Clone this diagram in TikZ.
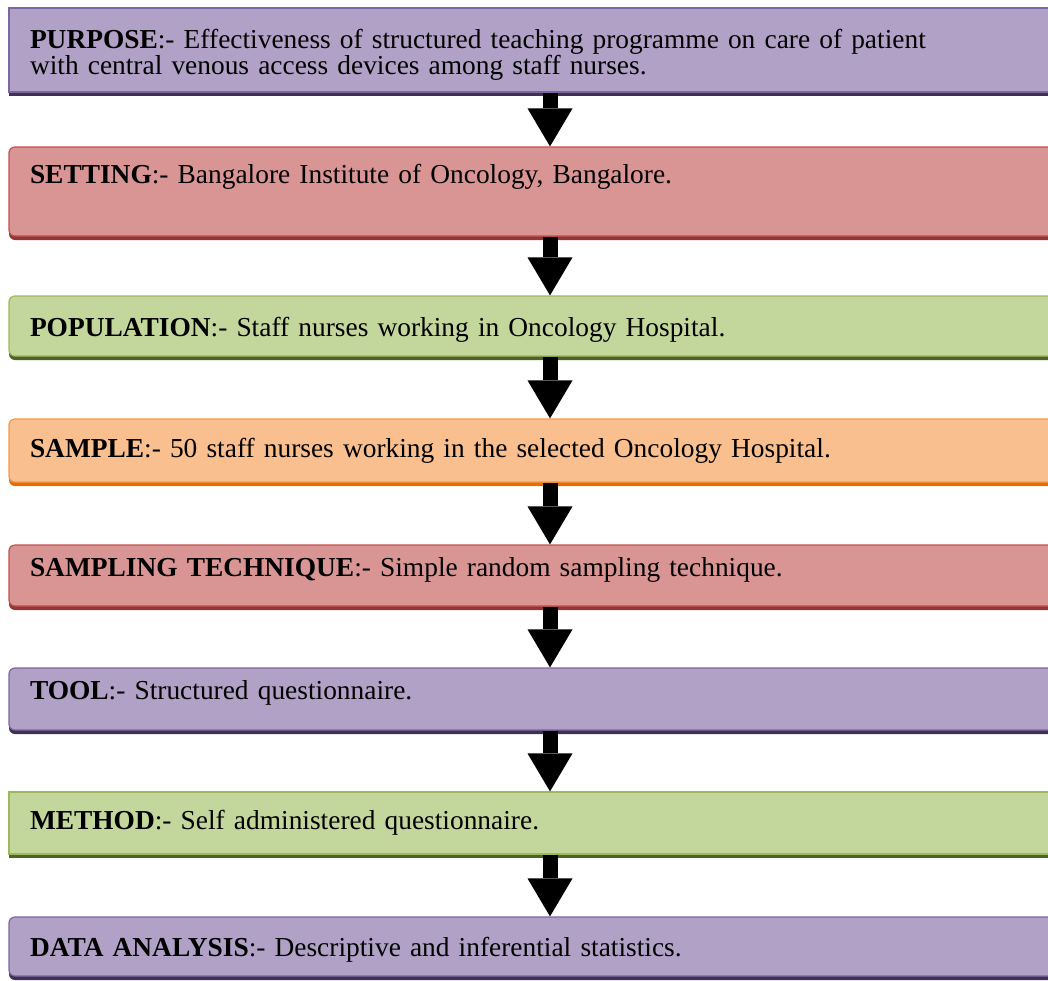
\documentclass[tikz,border=0pt]{standalone}
\usepackage{fontspec}
\setmainfont{Liberation Serif}
\usetikzlibrary{shadows,arrows.meta}

\definecolor{purpfill}{HTML}{B2A1C7}
\definecolor{purpline}{HTML}{8064A2}
\definecolor{purpdark}{HTML}{3F3151}
\definecolor{redfill}{HTML}{D99594}
\definecolor{redline}{HTML}{C0504D}
\definecolor{reddark}{HTML}{943634}
\definecolor{greenfill}{HTML}{C3D69B}
\definecolor{greenline}{HTML}{9BBB59}
\definecolor{greendark}{HTML}{4F6228}
\definecolor{orangefill}{HTML}{FABF8F}
\definecolor{orangeline}{HTML}{F79646}
\definecolor{orangedark}{HTML}{E36C09}

\begin{document}
\begin{tikzpicture}[x=0.5pt, y=-0.5pt,
    stage/.style={rectangle, line width=0.6pt, text width=520pt, inner xsep=10.5pt, align=left, font=\fontsize{13.7pt}{13pt}\selectfont, rounded corners=3pt},
    purplestage/.style={stage, fill=purpfill, draw=purpline, drop shadow={shadow xshift=0pt, shadow yshift=-2pt, fill=purpdark, opacity=1}},
    redstage/.style={stage, fill=redfill, draw=redline, drop shadow={shadow xshift=0pt, shadow yshift=-2pt, fill=reddark, opacity=1}},
    greenstage/.style={stage, fill=greenfill, draw=greenline, drop shadow={shadow xshift=0pt, shadow yshift=-2pt, fill=greendark, opacity=1}},
    orangestage/.style={stage, fill=orangefill, draw=orangeline, drop shadow={shadow xshift=0pt, shadow yshift=-2pt, fill=orangedark, opacity=1}},
    flow/.style={line width=7.5pt, -{Triangle[width=22.5pt, length=19pt, line width=0pt]}}
]
\clip (0,0) rectangle (1048,980);

% Stages
\node[purplestage, sharp corners, minimum height=42pt, text height=14.5pt] (purpose) at (550,50) {\textbf{PURPOSE}:- Effectiveness of structured teaching programme on care of patient\\with central venous access devices among staff nurses.};
\node[redstage, minimum height=44.5pt, text depth=18pt] (setting) at (550,191.5) {\textbf{SETTING}:- Bangalore Institute of Oncology, Bangalore.};
\node[greenstage, minimum height=30pt, text height=13.5pt] (population) at (550,326) {\textbf{POPULATION}:- Staff nurses working in Oncology Hospital.};
\node[orangestage, minimum height=31.5pt] (sample) at (550,450.5) {\textbf{SAMPLE}:- 50 staff nurses working in the selected Oncology Hospital.};
\node[redstage, minimum height=30.5pt, text depth=9pt] (sampling) at (550,575.5) {\textbf{SAMPLING TECHNIQUE}:- Simple random sampling technique.};
\node[purplestage, minimum height=31pt, text depth=9pt] (tool) at (550,699) {\textbf{TOOL}:- Structured questionnaire.};
\node[greenstage, sharp corners, minimum height=31pt] (method) at (550,823) {\textbf{METHOD}:- Self administered questionnaire.};
\node[purplestage, minimum height=29.5pt, text height=13pt] (analysis) at (550,946.5) {\textbf{DATA ANALYSIS}:- Descriptive and inferential statistics.};

% Arrows
\draw[flow] (purpose) -- (setting);
\draw[flow] (setting) -- (population);
\draw[flow] (population) -- (sample);
\draw[flow] (sample) -- (sampling);
\draw[flow] (sampling) -- (tool);
\draw[flow] (tool) -- (method);
\draw[flow] (method) -- (analysis);

\end{tikzpicture}
\end{document}
